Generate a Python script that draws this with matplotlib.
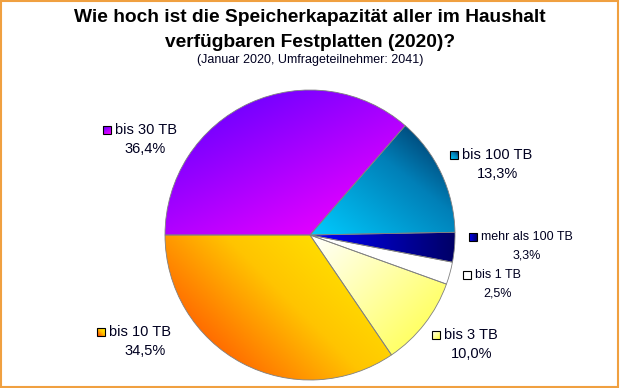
import numpy as np
import matplotlib
matplotlib.use("Agg")
from matplotlib import pyplot as plt
from matplotlib.colors import LinearSegmentedColormap
from matplotlib.patches import Rectangle

plt.rcParams['font.family'] = ['Liberation Sans', 'DejaVu Sans']

# Data (counter-clockwise, starting at 9 o'clock)
categories = ['bis 10 TB', 'bis 3 TB', 'bis 1 TB',
              'mehr als 100 TB', 'bis 100 TB', 'bis 30 TB']
shares = [34.5, 10.0, 2.5, 3.3, 13.3, 36.4]

title_lines = ['Wie hoch ist die Speicherkapazität aller im Haushalt',
               'verfügbaren Festplatten (2020)?']
subtitle = '(Januar 2020, Umfrageteilnehmer: 2041)'

# Style: gradient colour stops, direction (x, y)
gradients = [
    ([(0, '#fff200'), (0.45, '#ffc400'), (1, '#ff3000')], (-1.0, -1.0)),
    ([(0, '#ffffff'), (1, '#ffff40')], (1.0, -1.0)),
    ([(0, '#ffffff'), (1, '#ffffff')], (1.0, 0.0)),
    ([(0, '#0000ff'), (1, '#000066')], (1.0, 0.0)),
    ([(0, '#002855'), (0.4, '#0080b8'), (1, '#00ccff')], (-0.8, -1.0)),
    ([(0, '#5500ff'), (1, '#ff00ff')], (0.5, -1.0)),
]
# Label layout in pixels: square x, row y, percent centre x, font size
label_layout = [
    (97, 332, 145, 10.5),
    (432, 335, 472, 10.5),
    (463, 275, 498, 9),
    (469, 237, 527, 9),
    (450, 155, 498, 10.5),
    (103, 130, 145, 10.5),
]

W, H = 620, 388


def py(y):
    """Convert a pixel row (top down) to data y (bottom up)."""
    return H - y


def fill_gradient(ax, patch, stops, direction, extent, z=1):
    x0, x1, y0, y1 = extent
    X, Y = np.meshgrid(np.linspace(0, 1, 200), np.linspace(0, 1, 200))
    dx, dy = direction
    t = X * dx * (x1 - x0) + Y * dy * (y1 - y0)
    t = (t - t.min()) / max(t.max() - t.min(), 1e-9)
    cmap = LinearSegmentedColormap.from_list('g', stops)
    im = ax.imshow(t, cmap=cmap, extent=extent, origin='lower',
                   interpolation='bilinear', aspect='auto', zorder=z,
                   vmin=0, vmax=1)
    im.set_clip_path(patch)


def main():
    fig = plt.figure(figsize=(W / 100, H / 100), dpi=100)
    ax = fig.add_axes([0, 0, 1, 1])

    wedges, _ = ax.pie(shares, startangle=180, counterclock=True,
                       center=(310, py(235)), radius=145, frame=True,
                       wedgeprops=dict(edgecolor='#808080', linewidth=0.6,
                                       facecolor='none'))

    for w, (stops, d) in zip(wedges, gradients):
        th = np.radians(np.linspace(w.theta1, w.theta2, 100))
        xs = np.r_[w.center[0], w.center[0] + w.r * np.cos(th)]
        ys = np.r_[w.center[1], w.center[1] + w.r * np.sin(th)]
        w.set_zorder(3)
        fill_gradient(ax, w, stops, d, (xs.min(), xs.max(), ys.min(), ys.max()))

    # Labels with small legend squares
    for cat, val, (stops, d), (sx, sy, px, fs) in zip(
            categories, shares, gradients, label_layout):
        sq = Rectangle((sx, py(sy) - 4), 8, 8, facecolor='none',
                       edgecolor='black', linewidth=0.8, zorder=5)
        ax.add_patch(sq)
        fill_gradient(ax, sq, stops, d, (sx, sx + 8, py(sy) - 4, py(sy) + 4), z=4)
        ax.text(sx + 12, py(sy), cat, fontsize=fs, ha='left', va='center',
                color='#000020')
        ax.text(px, py(sy) - 19, f"{val:.1f}%".replace('.', ','),
                fontsize=fs, ha='center', va='center', color='#000020')

    # Titles
    ax.text(310, py(22), title_lines[0], ha='center', va='baseline',
            fontsize=13.8, fontweight='bold')
    ax.text(310, py(47), title_lines[1], ha='center', va='baseline',
            fontsize=13.8, fontweight='bold')
    ax.text(310, py(63), subtitle, ha='center', va='baseline', fontsize=9,
            color='#000020')

    # Orange frame
    ax.add_patch(Rectangle((0.5, 1.5), 617.5, 386, fill=False,
                           edgecolor='#f0a040', linewidth=1.5,
                           clip_on=False, zorder=6))

    ax.set_xlim(0, W)
    ax.set_ylim(0, H)
    ax.set_aspect('auto')
    ax.axis('off')
    fig.savefig('out.png', dpi=100)


if __name__ == "__main__":
    main()
